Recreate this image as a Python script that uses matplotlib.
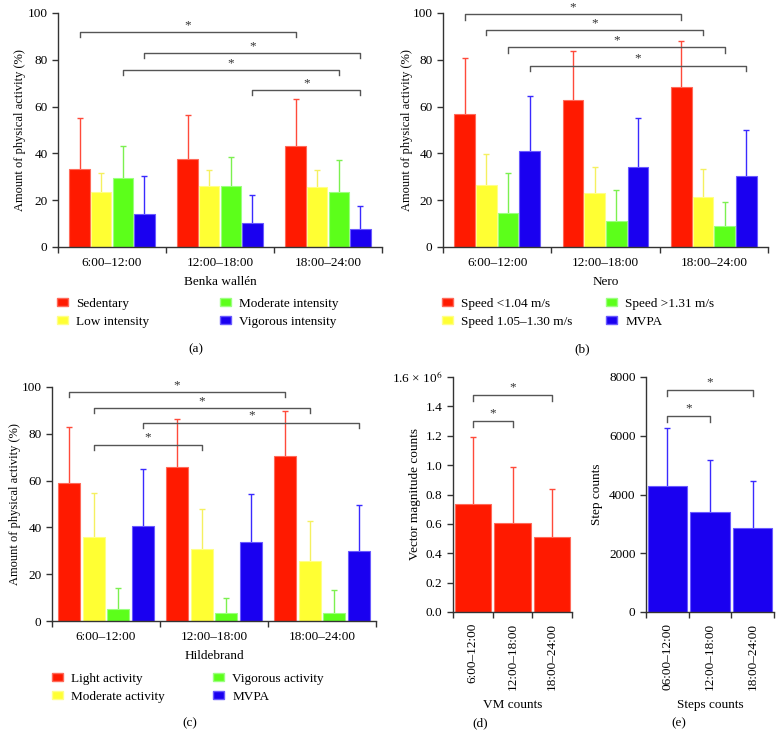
import numpy as np
import matplotlib
matplotlib.use('Agg')
import matplotlib.pyplot as plt
from matplotlib.patches import Patch

plt.rcParams['font.family'] = ['Liberation Serif', 'DejaVu Serif']
plt.rcParams['mathtext.fontset'] = 'stix'

# --- data -----------------------------------------------------------------
periods = ['6:00\u201312:00', '12:00\u201318:00', '18:00\u201324:00']
periods_e = ['06:00\u201312:00', '12:00\u201318:00', '18:00\u201324:00']

# (a) Benka wallén  (mean, sd)
a_names = ['Sedentary', 'Low intensity', 'Moderate intensity', 'Vigorous intensity']
a_mean = [[33.5, 37.5, 43.0],
          [23.5, 26.2, 25.5],
          [29.3, 26.2, 23.6],
          [14.1, 10.1, 7.7]]
a_sd = [[21.6, 18.9, 20.2],
        [8.1, 6.7, 7.4],
        [14.0, 12.4, 13.6],
        [16.1, 12.3, 9.7]]
# (series, group) -> (series, group), bracket height
a_sig = [(0, 0, 0, 2, 91.9), (3, 0, 3, 2, 82.9), (2, 0, 2, 2, 75.6), (3, 1, 3, 2, 67.1)]

# (b) Nero
b_names = ['Speed <1.04 m/s', 'Speed 1.05\u20131.30 m/s', 'Speed >1.31 m/s', 'MVPA']
b_mean = [[57.0, 63.0, 68.4],
          [26.5, 23.1, 21.4],
          [14.5, 11.0, 8.8],
          [41.2, 34.0, 30.2]]
b_sd = [[23.8, 20.9, 19.6],
        [13.2, 10.9, 11.9],
        [17.1, 13.5, 10.4],
        [23.3, 21.1, 19.7]]
b_sig = [(0, 0, 0, 2, 99.4), (1, 0, 1, 2, 92.7), (2, 0, 2, 2, 85.3), (3, 0, 3, 2, 77.5)]

# (c) Hildebrand
c_names = ['Light activity', 'Moderate activity', 'Vigorous activity', 'MVPA']
c_mean = [[59.0, 65.7, 70.7],
          [35.9, 30.6, 25.5],
          [5.3, 3.6, 3.3],
          [40.7, 33.8, 29.9]]
c_sd = [[23.9, 20.6, 18.9],
        [18.9, 17.1, 17.2],
        [8.9, 6.4, 9.9],
        [24.3, 20.6, 19.7]]
c_sig = [(0, 0, 0, 2, 97.9), (1, 0, 1, 2, 91.0), (3, 0, 3, 2, 84.8), (1, 0, 1, 1, 75.4)]

# (d) VM counts (x 10^6), (e) step counts
vm_mean = [0.733, 0.609, 0.514]
vm_sd = [0.457, 0.375, 0.326]
vm_sig = [(0, 2, 1.478), (0, 1, 1.30)]
steps_mean = [4288, 3417, 2874]
steps_sd = [1980, 1743, 1573]
steps_sig = [(0, 2, 7558), (0, 1, 6676)]

colors = ['#ff1a00', '#ffff33', '#5cff1a', '#1a00f0']
edges = ['#ff6a5a', '#ffff88', '#9cff80', '#6a5aff']
err_cols = ['#ff4a3a', '#f5f060', '#7cf050', '#3a2aff']
axc = '#333333'
fs = 9.5

fig = plt.figure(figsize=(7.83, 7.5), dpi=100)


def style(ax, ymax, yticks):
    for s in ('top', 'right'):
        ax.spines[s].set_visible(False)
    for s in ('left', 'bottom'):
        ax.spines[s].set_color(axc)
        ax.spines[s].set_linewidth(1.0)
    ax.set_xlim(-0.5, 2.5)
    ax.set_ylim(0, ymax)
    ax.set_yticks(yticks)
    ax.set_xticks([0, 1, 2])
    ax.set_xticks([-0.5, 0.5, 1.5, 2.5], minor=True)
    ax.tick_params(axis='x', which='major', length=0, pad=7, labelsize=fs)
    ax.tick_params(axis='x', which='minor', length=4, color=axc, width=1)
    ax.tick_params(axis='y', length=4, color=axc, width=1, labelsize=fs, pad=3.5)


def bracket(ax, x0, x1, y, drop, star_off):
    ax.plot([x0, x0, x1, x1], [y - drop, y, y, y - drop], color='#555555', lw=1.0,
            clip_on=False, zorder=4)
    ax.text((x0 + x1) / 2, y + star_off, '*', ha='center', va='center', fontsize=9.5,
            color='#333333')


def legend_col(handles, names, x, top):
    leg = fig.legend(handles, names, loc='upper left', bbox_to_anchor=(x / 783, 1 - top / 750),
                     frameon=False, fontsize=fs, handlelength=0.85, handleheight=0.55,
                     handletextpad=0.6, labelspacing=0.42, borderaxespad=0, borderpad=0)
    return leg


def grouped(rect, names, mean, sd, sig, spacing, width, xlabel, ylab_x, leg_x, leg_top):
    ax = fig.add_axes(rect)
    x = np.arange(3)
    offs = [(k - 1.5) * spacing for k in range(4)]
    for k in range(4):
        ax.errorbar(x + offs[k], mean[k], yerr=sd[k], fmt='none', ecolor=err_cols[k],
                    elinewidth=1, capsize=2.2, capthick=1, zorder=1)
        ax.bar(x + offs[k], mean[k], width, color=colors[k], edgecolor=edges[k],
               linewidth=0.8, zorder=2)
    for s, g0, s1, g1, y in sig:
        bracket(ax, g0 + offs[s], g1 + offs[s1], y, 2.2, 3.0)
    style(ax, 100, [0, 20, 40, 60, 80, 100])
    ax.set_xticklabels(periods)
    ax.set_ylabel('Amount of physical activity (%)', fontsize=9)
    ax.yaxis.set_label_coords(ylab_x, 0.5)
    ax.set_xlabel(xlabel, fontsize=fs, labelpad=5)
    handles = [Patch(facecolor=colors[k], edgecolor=edges[k]) for k in range(4)]
    legend_col(handles[:2], names[:2], leg_x[0], leg_top)
    legend_col(handles[2:], names[2:], leg_x[1], leg_top)
    return ax


grouped([58 / 783, 1 - 247 / 750, 324 / 783, 234 / 750], a_names, a_mean, a_sd, a_sig,
        0.2, 0.19, 'Benka wall\u00e9n', -0.099, (57, 220), 298)
grouped([443 / 783, 1 - 247 / 750, 325 / 783, 234 / 750], b_names, b_mean, b_sd, b_sig,
        0.2, 0.19, 'Nero', -0.092, (442, 606), 298)
grouped([52 / 783, 1 - 621 / 750, 324 / 783, 234 / 750], c_names, c_mean, c_sd, c_sig,
        0.231, 0.204, 'Hildebrand', -0.096, (52, 213), 673)

for letter, lx, ly in [('a', 196, 349), ('b', 582, 349), ('c', 190, 723),
                       ('d', 480, 723), ('e', 679, 723)]:
    fig.text(lx / 783, 1 - ly / 750, '(' + letter + ')', ha='center', va='center', fontsize=fs)

# (d) VM counts
axd = fig.add_axes([453 / 783, 1 - 612 / 750, 119 / 783, 235 / 750])
xd = np.arange(3)
axd.errorbar(xd, vm_mean, yerr=vm_sd, fmt='none', ecolor=err_cols[0], elinewidth=1,
             capsize=2.2, capthick=1, zorder=1)
axd.bar(xd, vm_mean, 0.92, color=colors[0], edgecolor=edges[0], linewidth=0.8, zorder=2)
for g0, g1, y in vm_sig:
    bracket(axd, g0, g1, y, 0.04, 0.05)
style(axd, 1.6, np.arange(0, 1.61, 0.2))
axd.set_yticklabels(['%.1f' % v for v in np.arange(0, 1.41, 0.2)] + ['1.6 \u00d7 10$^6$'])
axd.set_xticklabels(periods, rotation=90)
axd.tick_params(axis='x', which='major', pad=8)
axd.set_ylabel('Vector magnitude counts', fontsize=fs)
axd.yaxis.set_label_coords(-0.27, 0.5)
axd.set_xlabel('VM counts', fontsize=fs, labelpad=6)

# (e) step counts
axe = fig.add_axes([646 / 783, 1 - 612 / 750, 128 / 783, 235 / 750])
axe.errorbar(xd, steps_mean, yerr=steps_sd, fmt='none', ecolor=err_cols[3], elinewidth=1,
             capsize=2.2, capthick=1, zorder=1)
axe.bar(xd, steps_mean, 0.92, color=colors[3], edgecolor=edges[3], linewidth=0.8, zorder=2)
for g0, g1, y in steps_sig:
    bracket(axe, g0, g1, y, 200, 250)
style(axe, 8000, [0, 2000, 4000, 6000, 8000])
axe.set_xticklabels(periods_e, rotation=90)
axe.tick_params(axis='x', which='major', pad=8)
axe.set_ylabel('Step counts', fontsize=fs)
axe.yaxis.set_label_coords(-0.336, 0.5)
axe.set_xlabel('Steps counts', fontsize=fs, labelpad=6)

fig.savefig('out.png', dpi=100, facecolor='white')
